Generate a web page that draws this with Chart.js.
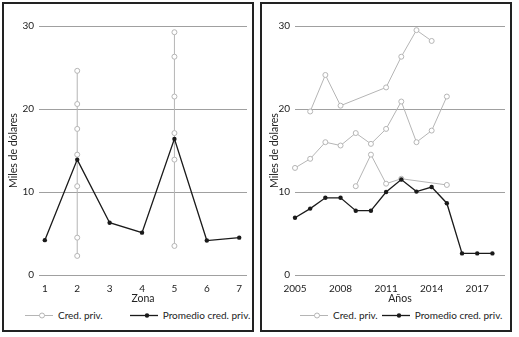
<!DOCTYPE html>
<html>
<head>
<meta charset="utf-8">
<script src="https://cdn.jsdelivr.net/npm/chart.js@4.4.1/dist/chart.umd.min.js"></script>
<style>
  body { margin: 0; background: #fff; font-family: Lato, sans-serif; }
  .panel { position: absolute; top: 2px; width: 252px; height: 330px; border: 2px solid #222; box-sizing: border-box; }
  #p1 { left: 2px; }
  #p2 { left: 260px; }
  .wrap { position: relative; width: 248px; height: 303px; }
  .legend { position: absolute; top: 305px; left: 0; display: flex; align-items: center;
            font-size: 10px; line-height: 12px; color: #222; white-space: nowrap; }
  .legend .item { display: flex; align-items: center; }
  .legend canvas { margin-right: 5px; }
</style>
</head>
<body>
<div class="panel" id="p1">
  <div class="wrap"><canvas id="c1"></canvas></div>
  <div class="legend" id="l1" style="padding-left:21px"></div>
</div>
<div class="panel" id="p2">
  <div class="wrap"><canvas id="c2"></canvas></div>
  <div class="legend" id="l2" style="padding-left:38px"></div>
</div>
<script>
// left panel: by zone
const zones = [1, 2, 3, 4, 5, 6, 7];
const zoneAvg = [4.2, 13.9, 6.3, 5.1, 16.4, 4.15, 4.5];
const zone2Cred = [2.3, 4.5, 10.7, 14.5, 17.6, 20.6, 24.6];
const zone5Cred = [3.5, 13.9, 17.1, 21.5, 26.3, 29.25];

// right panel: by year
const years = [2005, 2006, 2007, 2008, 2009, 2010, 2011, 2012, 2013, 2014, 2015, 2016, 2017, 2018];
const yearTicks = [2005, 2008, 2011, 2014, 2017];
const yearAvg = [6.9, 8.0, 9.3, 9.3, 7.75, 7.75, 10.0, 11.5, 10.05, 10.6, 8.65, 2.6, 2.6, 2.6];
const credTop = [null, 19.7, 24.1, 20.4, null, null, 22.6, 26.3, 29.5, 28.2, null, null, null, null];
const credMid = [12.9, 14.0, 16.0, 15.6, 17.1, 15.8, 17.6, 20.9, 16.0, 17.4, 21.5, null, null, null];
const credLow = [null, null, null, null, 10.7, 14.5, 11.0, 11.6, null, null, 10.85, null, null, null];

const yTicks = [0, 10, 20, 30];
const credLabel = "Cred. priv.";
const avgLabel = "Promedio cred. priv.";

const GRAY = "#b5b5b5";
const BLACK = "#1a1a1a";

Chart.defaults.font.family = "Lato, sans-serif";
Chart.defaults.font.size = 10;
Chart.defaults.color = "#222";

function toPoints(xs, ys) {
  return xs.map((x, i) => ({ x: x, y: ys[i] })).filter(p => p.y !== null);
}

function credSet(data) {
  return {
    label: credLabel, data: data, order: 2, clip: false,
    borderColor: GRAY, backgroundColor: GRAY, borderWidth: 1,
    pointRadius: 2.5, pointBorderWidth: 1, pointBorderColor: GRAY, pointBackgroundColor: "#fff"
  };
}

function avgSet(data) {
  return {
    label: avgLabel, data: data, order: 1, clip: false,
    borderColor: BLACK, backgroundColor: BLACK, borderWidth: 1.3,
    pointRadius: 2.2, pointBorderWidth: 0, pointBackgroundColor: BLACK
  };
}

function makeChart(el, datasets, xOpts, yTitlePad) {
  return new Chart(el, {
    type: "line",
    data: { datasets: datasets },
    options: {
      responsive: true,
      maintainAspectRatio: false,
      animation: false,
      layout: { padding: { top: 22, right: xOpts.padRight, bottom: 0, left: 0 } },
      plugins: { legend: { display: false }, tooltip: { enabled: false } },
      scales: {
        x: {
          type: "linear",
          min: xOpts.min,
          max: xOpts.max,
          grid: { display: false, drawTicks: false },
          border: { display: false },
          afterBuildTicks: s => { s.ticks = xOpts.ticks.map(v => ({ value: v })); },
          afterFit: s => { s.height = 32; },
          ticks: { padding: 8, callback: v => String(v), maxRotation: 0 },
          title: { display: true, text: xOpts.title, font: { size: 10.5 }, padding: { top: 0, bottom: 2 } }
        },
        y: {
          min: 0,
          max: 30,
          afterBuildTicks: s => { s.ticks = yTicks.map(v => ({ value: v })); },
          afterFit: s => { s.width = xOpts.yWidth; },
          grid: { color: "#a0a0a0", lineWidth: 1, drawTicks: false },
          border: { display: false },
          ticks: { padding: 5 },
          title: { display: true, text: "Miles de dólares", font: { size: 10.5 }, padding: { top: yTitlePad, bottom: 0 } }
        }
      }
    }
  });
}

function swatch(ds) {
  const c = document.createElement("canvas");
  c.width = 28; c.height = 10;
  const ctx = c.getContext("2d");
  ctx.strokeStyle = ds.borderColor;
  ctx.lineWidth = ds.borderWidth;
  ctx.beginPath(); ctx.moveTo(0, 5.5); ctx.lineTo(28, 5.5); ctx.stroke();
  ctx.beginPath(); ctx.arc(17, 5.5, ds.pointRadius, 0, Math.PI * 2);
  ctx.fillStyle = ds.pointBackgroundColor; ctx.fill();
  if (ds.pointBorderWidth) { ctx.lineWidth = ds.pointBorderWidth; ctx.strokeStyle = ds.pointBorderColor; ctx.stroke(); }
  return c;
}

function buildLegend(chart, box, gap) {
  const items = Chart.defaults.plugins.legend.labels.generateLabels(chart)
    .sort((a, b) => a.datasetIndex - b.datasetIndex);
  const seen = [];
  items.forEach(it => {
    if (seen.includes(it.text)) return;
    seen.push(it.text);
    const ds = chart.data.datasets[it.datasetIndex];
    const item = document.createElement("div");
    item.className = "item";
    if (seen.length > 1) item.style.marginLeft = gap + "px";
    item.appendChild(swatch(ds));
    const t = document.createElement("span");
    t.textContent = it.text;
    item.appendChild(t);
    box.appendChild(item);
  });
}

const chartZona = makeChart(document.getElementById("c1"), [
  credSet(zone2Cred.map(v => ({ x: zones[1], y: v }))),
  credSet(zone5Cred.map(v => ({ x: zones[4], y: v }))),
  avgSet(toPoints(zones, zoneAvg))
], { min: 0.82, max: 7.24, ticks: zones, title: "Zona", yWidth: 35, padRight: 2 }, 3.3);

const chartAnos = makeChart(document.getElementById("c2"), [
  credSet(toPoints(years, credTop)),
  credSet(toPoints(years, credMid)),
  credSet(toPoints(years, credLow)),
  avgSet(toPoints(years, yearAvg))
], { min: 2005, max: 2018.83, ticks: yearTicks, title: "Años", yWidth: 33, padRight: 4 }, 6.8);

buildLegend(chartZona, document.getElementById("l1"), 27);
buildLegend(chartAnos, document.getElementById("l2"), 4);
</script>
</body>
</html>
